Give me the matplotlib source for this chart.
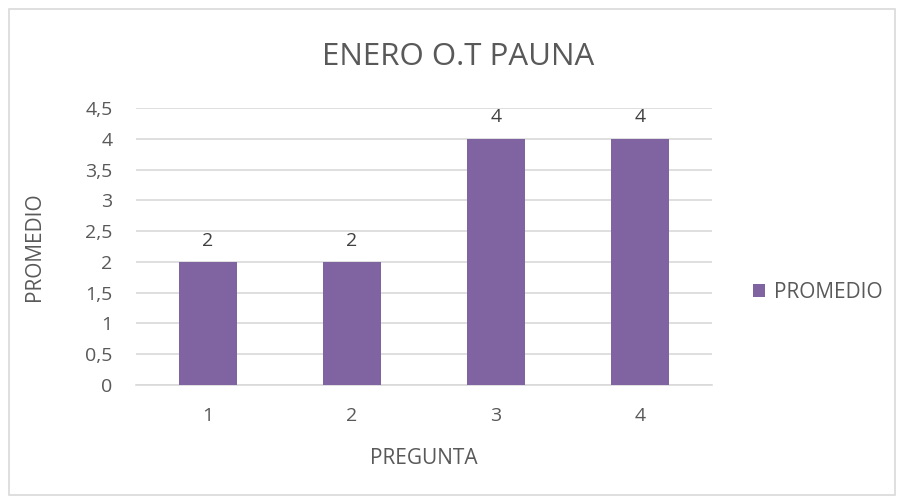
import matplotlib
matplotlib.use('Agg')
import matplotlib.pyplot as plt
import matplotlib.patches as patches

plt.rcParams['font.family'] = ['Open Sans', 'DejaVu Sans']

categories = ['1', '2', '3', '4']
promedio = [2, 2, 4, 4]
yticks = [0, 0.5, 1, 1.5, 2, 2.5, 3, 3.5, 4, 4.5]
ytick_labels = ['0', '0,5', '1', '1,5', '2', '2,5', '3', '3,5', '4', '4,5']

bar_color = '#8064A2'
text_color = '#595959'
grid_color = '#D9D9D9'

fig = plt.figure(figsize=(9.02, 5.01), dpi=100)
ax = fig.add_axes([136 / 902, 1 - 385 / 501, 576 / 902, 277 / 501])

# chart border
fig.patches.append(patches.Rectangle((9 / 902, 6 / 501), 886 / 902, 486 / 501,
                                     transform=fig.transFigure, fill=False,
                                     edgecolor='#D9D9D9', linewidth=1.2))

x = range(len(categories))
bars = ax.bar(x, promedio, width=0.4, color=bar_color, label='PROMEDIO', zorder=3)
for b, v in zip(bars, promedio):
    ax.text(b.get_x() + b.get_width() / 2, v + 0.2, str(v), ha='center', va='bottom',
            fontsize=14, color='#404040')

ax.set_xlim(-0.5, len(categories) - 0.5)
ax.set_ylim(0, 4.5)
ax.set_yticks(yticks)
ax.set_yticklabels(ytick_labels)
ax.set_xticks(list(x))
ax.set_xticklabels(categories)
ax.yaxis.grid(True, color=grid_color, linewidth=1.2, zorder=0)
ax.tick_params(axis='both', length=0, labelsize=14, labelcolor=text_color)
ax.tick_params(axis='y', pad=17)
ax.tick_params(axis='x', pad=16)
for s in ['top', 'right', 'left']:
    ax.spines[s].set_visible(False)
ax.spines['bottom'].set_color(grid_color)
ax.spines['bottom'].set_linewidth(1.2)

fig.text(424 / 902, 1 - 458 / 501, 'PREGUNTA', ha='center', va='center',
         fontsize=15, color=text_color)
fig.text(35 / 902, 1 - 247 / 501, 'PROMEDIO', ha='center', va='center',
         rotation=90, fontsize=15, color=text_color)
fig.text(458 / 902, 1 - 57 / 501, 'ENERO O.T PAUNA', ha='center', va='center',
         fontsize=22.5, color=text_color)

fig.legend(loc='center left', bbox_to_anchor=(734 / 902, 1 - 292 / 501),
           frameon=False, fontsize=15, handlelength=0.6, handleheight=0.6,
           handletextpad=0.4, labelcolor=text_color)

fig.savefig('out.png', dpi=100)
